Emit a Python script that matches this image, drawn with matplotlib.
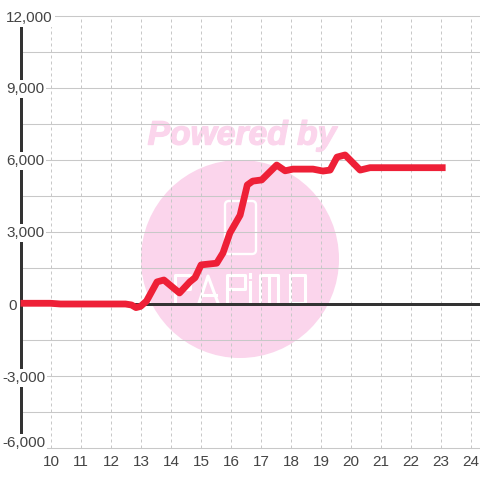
import matplotlib
matplotlib.use("Agg")
import matplotlib.pyplot as plt
import matplotlib.patheffects as pe
from matplotlib.patches import Circle, FancyBboxPatch
from matplotlib.transforms import Affine2D

# data
hours = [9.0, 10.0, 10.33, 12.5, 12.7, 12.85, 13.0, 13.2, 13.55, 13.78, 14.3, 14.65, 14.82, 15.02,
         15.54, 15.75, 15.98, 16.32, 16.56, 16.74, 17.04, 17.54, 17.82, 18.08, 18.75, 19.08,
         19.32, 19.55, 19.82, 20.32, 20.65, 23.17]
values = [30, 30, 0, 0, -40, -150, -100, 120, 920, 1000, 460, 930, 1100, 1630,
          1700, 2130, 2960, 3700, 4960, 5120, 5170, 5790, 5550, 5620, 5620, 5540,
          5580, 6120, 6210, 5580, 5680, 5680]

x_ticks = list(range(10, 25))
y_ticks = [12000, 9000, 6000, 3000, 0, -3000, -6000]
y_grid = list(range(-6000, 12001, 1500))
# left edge of each y label in pixels, and nudge up
y_label_left = [6, 6, 6, 6, 8, 2, 2]
y_label_up = [-2, -1, -1, -1, -2, -2, 5]

PX = 30.0      # pixels per hour
PY = 0.024     # pixels per unit
TEXT = "#444444"
PINK = "#FBD5EC"
GRID = "#C8C8C8"

plt.rcParams["font.family"] = ["Liberation Sans", "DejaVu Sans"]

fig = plt.figure(figsize=(4.8, 4.8), dpi=100)
ax = fig.add_axes([0, 0, 1, 1])
ax.set_axis_off()
# one data unit maps to fixed pixels, 10h at px 50.5 and 0 at px 304 from the top
ax.set_xlim(10 - 50.5 / PX, 10 + (480 - 50.5) / PX)
ax.set_ylim(-(480 - 304) / PY, 304 / PY)

# watermark, pixel coordinates from top left
wm = Affine2D().scale(1, -1).translate(0, 480)
ax.add_patch(Circle((240, 259), 99, color=PINK, lw=0, transform=wm, zorder=1))
ax.add_patch(FancyBboxPatch((225, 201), 31, 53, boxstyle="round,pad=0,rounding_size=4",
                            fc="none", ec="white", lw=1.7, transform=wm, zorder=1.1))
ax.text(242, 136, "Powered by", transform=wm, color=PINK, fontsize=24.2, fontweight="bold",
        fontstyle="italic", ha="center", va="center", zorder=1,
        path_effects=[pe.withStroke(linewidth=1.0, foreground=PINK)])

# logo letters as plain strokes
logo_strokes = [
    ([175, 175, 190, 190, 175], [303, 275, 275, 289, 289]),
    ([199, 208, 218], [303, 276, 303]),
    ([202, 216], [295, 295]),
    ([227, 227, 245, 245, 227], [303, 275, 275, 289, 289]),
    ([250, 250], [274, 277]),
    ([250, 250], [282, 303]),
    ([260, 260, 278, 278], [303, 275, 275, 303]),
    ([269, 269], [275, 303]),
    ([290, 290, 305, 305, 290], [275, 303, 303, 275, 275]),
]
for sx, sy in logo_strokes:
    ax.plot(sx, sy, color="white", lw=2.2, transform=wm, zorder=1.1, solid_joinstyle="round")

# grid
right = ax.get_xlim()[1]
for y in y_grid:
    ax.plot([9.0, right], [y, y], color=GRID, lw=0.75, zorder=2, solid_capstyle="butt")
for x in x_ticks:
    ax.plot([x, x], [-6000, 12000], color=GRID, lw=0.72, ls=(0, (3, 3)), zorder=2)

# axes lines
ax.plot([9.0, 9.0], [-5500, 11670], color="#333333", lw=2.16, zorder=3, solid_capstyle="butt")
ax.plot([9.0, right], [0, 0], color="#333333", lw=2.16, zorder=3, solid_capstyle="butt")

# series
ax.plot(hours, values, color="#EE2037", lw=4.9, zorder=4, solid_capstyle="butt", solid_joinstyle="round")

# labels with white box, they cut the grid and the axis
for v, left, up in zip(y_ticks, y_label_left, y_label_up):
    s = f"{v:,}"
    ax.annotate(s, xy=(0, v), xycoords=("axes fraction", "data"), xytext=(left * 0.72, up * 0.72),
                textcoords="offset points", ha="left", va="center", color=TEXT, fontsize=11, zorder=5,
                bbox=dict(fc="white", ec="none", pad=1.5) if v != 0 else None)
for x in x_ticks:
    ax.annotate(str(x), xy=(x, 0), xycoords=("data", "axes fraction"), xytext=(0.4, 13),
                textcoords="offset points", ha="center", va="center", color=TEXT, fontsize=11, zorder=5)

fig.savefig("out.png", dpi=100)
